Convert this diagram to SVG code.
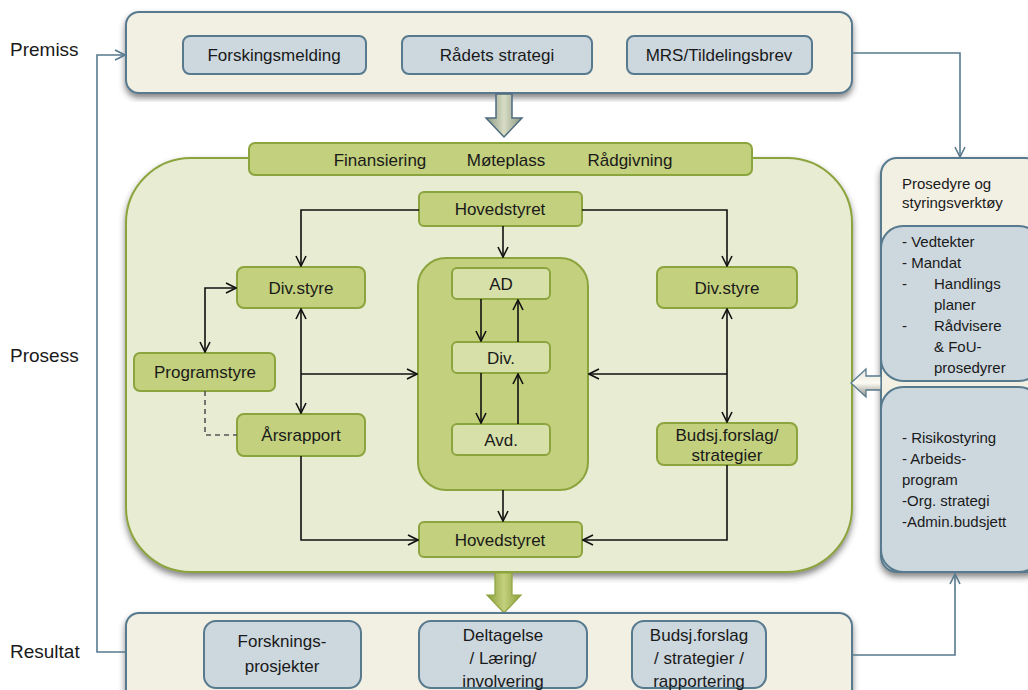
<svg xmlns="http://www.w3.org/2000/svg" width="1028" height="690" viewBox="0 0 1028 690">
<style>
text{font-family:"Liberation Sans","Noto Sans",Arial,sans-serif;fill:#1a1a1a}
.lbl{font-size:19px}
.t{font-size:17px;text-anchor:middle}
.s{font-size:15px}
.cream{fill:#f2efe3;stroke:#587a8e;stroke-width:2}
.blue{fill:#ccd7de;stroke:#587a8e;stroke-width:2}
.green{fill:#c3d07d;stroke:#8ca43e;stroke-width:2}
.lgreen{fill:#d7e0a9;stroke:#8ca43e;stroke-width:2}
.c{fill:none;stroke:#111;stroke-width:1.6}
.fb{fill:none;stroke:#587a8e;stroke-width:1.6}
.dash{fill:none;stroke:#555;stroke-width:1.6;stroke-dasharray:5 4}
</style>
<defs>
<filter id="sh" x="-5%" y="-5%" width="110%" height="115%">
<feDropShadow dx="0" dy="4" stdDeviation="3" flood-color="#333" flood-opacity="0.6"/>
</filter>
<marker id="a" viewBox="0 0 12 12" refX="11" refY="6" markerWidth="12" markerHeight="12" markerUnits="userSpaceOnUse" orient="auto">
<path d="M1,1 L11,6 L1,11" fill="none" stroke="#111" stroke-width="1.6"/>
</marker>
<marker id="ab" viewBox="0 0 12 12" refX="11" refY="6" markerWidth="12" markerHeight="12" markerUnits="userSpaceOnUse" orient="auto">
<path d="M1,1 L11,6 L1,11" fill="none" stroke="#587a8e" stroke-width="1.6"/>
</marker>
<linearGradient id="gd" x1="0" y1="0" x2="1" y2="0">
<stop offset="0" stop-color="#8a9780"/><stop offset="0.5" stop-color="#d8dcc4"/><stop offset="1" stop-color="#8a9780"/>
</linearGradient>
<linearGradient id="gg" x1="0" y1="0" x2="1" y2="0">
<stop offset="0" stop-color="#8b9e3a"/><stop offset="0.5" stop-color="#c3d07d"/><stop offset="1" stop-color="#8b9e3a"/>
</linearGradient>
<linearGradient id="gl" x1="0" y1="0" x2="0" y2="1">
<stop offset="0" stop-color="#e8e6da"/><stop offset="0.5" stop-color="#fbfaf3"/><stop offset="1" stop-color="#8f8f86"/>
</linearGradient>
</defs>

<!-- side labels -->
<text class="lbl" x="10" y="56">Premiss</text>
<text class="lbl" x="10" y="362">Prosess</text>
<text class="lbl" x="10" y="658">Resultat</text>

<!-- Premiss -->
<g id="premiss">
<rect class="cream" x="126" y="12" width="726" height="81" rx="13" filter="url(#sh)"/>
</g>
<g id="forskingsmelding"><rect class="blue" x="183" y="36" width="183" height="38" rx="7"/><text class="t" x="274" y="61">Forskingsmelding</text></g>
<g id="radets-strategi"><rect class="blue" x="402" y="36" width="190" height="38" rx="7"/><text class="t" x="497" y="61">Rådets strategi</text></g>
<g id="mrs"><rect class="blue" x="627" y="36" width="185" height="38" rx="7"/><text class="t" x="719" y="61">MRS/Tildelingsbrev</text></g>

<!-- block arrow premiss -> prosess -->
<path d="M496,94 L512,94 L512,118 L522,118 L504,137 L486,118 L496,118 Z" fill="url(#gd)" stroke="#4e6b80" stroke-width="1.5"/>

<!-- Prosess -->
<g id="prosess">
<rect x="126" y="158" width="726" height="414" rx="65" fill="#e8ecd2" stroke="#8ca43e" stroke-width="2" filter="url(#sh)"/>
</g>
<g id="tema"><rect class="green" x="249" y="143" width="503" height="32" rx="6"/>
<text class="t" x="380" y="166">Finansiering</text><text class="t" x="506" y="166">Møteplass</text><text class="t" x="630" y="166">Rådgivning</text></g>

<!-- Block arrow prosess -> resultat -->
<path d="M495,573 L512,573 L512,595 L521,595 L504,613 L487,595 L495,595 Z" fill="url(#gg)" stroke="#8ca43e" stroke-width="1.2"/>

<g id="hovedstyret-top"><rect class="green" x="419" y="192" width="163" height="34" rx="5"/><text class="t" x="500" y="215">Hovedstyret</text></g>
<g id="divstyre-left"><rect class="green" x="237" y="267" width="128" height="41" rx="7"/><text class="t" x="301" y="294">Div.styre</text></g>
<g id="divstyre-right"><rect class="green" x="657" y="267" width="140" height="41" rx="7"/><text class="t" x="727" y="294">Div.styre</text></g>
<g id="programstyre"><rect class="green" x="134" y="353" width="141" height="38" rx="6"/><text class="t" x="205" y="378">Programstyre</text></g>
<g id="arsrapport"><rect class="green" x="237" y="414" width="128" height="42" rx="7"/><text class="t" x="301" y="441">Årsrapport</text></g>
<g id="budsj"><rect class="green" x="657" y="423" width="140" height="42" rx="7"/><text class="t" x="727" y="441">Budsj.forslag/</text><text class="t" x="727" y="461">strategier</text></g>
<g id="sentral"><rect class="green" x="418" y="258" width="170" height="232" rx="28"/></g>
<g id="ad"><rect class="lgreen" x="452" y="268" width="98" height="31" rx="5"/><text class="t" x="501" y="290">AD</text></g>
<g id="div"><rect class="lgreen" x="452" y="342" width="98" height="31" rx="5"/><text class="t" x="501" y="364">Div.</text></g>
<g id="avd"><rect class="lgreen" x="452" y="424" width="98" height="31" rx="5"/><text class="t" x="501" y="446">Avd.</text></g>
<g id="hovedstyret-bottom"><rect class="green" x="419" y="522" width="163" height="35" rx="5"/><text class="t" x="500" y="546">Hovedstyret</text></g>

<!-- right procedure column -->
<g id="prosedyre">
<rect class="cream" x="881" y="158" width="160" height="414" rx="16" filter="url(#sh)"/>
<text class="s" x="902" y="189">Prosedyre og</text>
<text class="s" x="902" y="208">styringsverktøy</text>
</g>
<g id="prosedyre-liste">
<rect class="blue" x="881" y="226" width="160" height="155" rx="22"/>
<text class="s" x="902" y="247">- Vedtekter</text>
<text class="s" x="902" y="268">- Mandat</text>
<text class="s" x="902" y="289">-</text><text class="s" x="934" y="289">Handlings</text>
<text class="s" x="934" y="310">planer</text>
<text class="s" x="902" y="331">-</text><text class="s" x="934" y="331">Rådvisere</text>
<text class="s" x="934" y="352">&amp; FoU-</text>
<text class="s" x="934" y="373">prosedyrer</text>
</g>
<g id="styring-liste">
<rect class="blue" x="881" y="387" width="160" height="185" rx="22"/>
<text class="s" x="902" y="443">- Risikostyring</text>
<text class="s" x="902" y="464">- Arbeids-</text>
<text class="s" x="902" y="485">program</text>
<text class="s" x="902" y="506">-Org. strategi</text>
<text class="s" x="902" y="527">-Admin.budsjett</text>
</g>
<!-- block arrow left -->
<path d="M881,376 L866,376 L866,369 L851,383 L866,397 L866,390 L881,390 Z" fill="url(#gl)" stroke="#587a8e" stroke-width="1.3"/>

<!-- Resultat -->
<g id="resultat">
<rect class="cream" x="126" y="613" width="726" height="90" rx="13" filter="url(#sh)"/>
</g>
<g id="forskningsprosjekter"><rect class="blue" x="204" y="621" width="157" height="67" rx="12"/><text class="t" x="282" y="647">Forsknings-</text><text class="t" x="282" y="672">prosjekter</text></g>
<g id="deltagelse"><rect class="blue" x="419" y="621" width="168" height="67" rx="12"/><text class="t" x="503" y="641">Deltagelse</text><text class="t" x="503" y="664">/ Læring/</text><text class="t" x="503" y="687">involvering</text></g>
<g id="budsj-res"><rect class="blue" x="632" y="621" width="134" height="67" rx="12"/><text class="t" x="699" y="641">Budsj.forslag</text><text class="t" x="699" y="664">/ strategier /</text><text class="t" x="699" y="687">rapportering</text></g>

<!-- connectors -->
<g id="connectors">
<path class="fb" d="M126,652 L97,652 L97,55 L125,55" marker-end="url(#ab)"/>
<path class="fb" d="M852,53 L960,53 L960,157" marker-end="url(#ab)"/>
<path class="fb" d="M852,655 L955,655 L955,574" marker-end="url(#ab)"/>

<path class="c" d="M419,210 L301,210 L301,266" marker-end="url(#a)"/>
<path class="c" d="M582,210 L727,210 L727,266" marker-end="url(#a)"/>
<path class="c" d="M503,226 L503,257" marker-end="url(#a)"/>
<path class="c" d="M481,299 L481,341" marker-end="url(#a)"/>
<path class="c" d="M518,342 L518,300" marker-end="url(#a)"/>
<path class="c" d="M481,373 L481,423" marker-end="url(#a)"/>
<path class="c" d="M518,424 L518,374" marker-end="url(#a)"/>
<path class="c" d="M503,490 L503,521" marker-end="url(#a)"/>

<path class="c" d="M301,361 L301,309" marker-end="url(#a)"/>
<path class="c" d="M301,361 L301,413" marker-end="url(#a)"/>
<path class="c" d="M301,374 L417,374" marker-end="url(#a)"/>
<path class="c" d="M205,320 L205,288 L236,288" marker-end="url(#a)"/>
<path class="c" d="M205,320 L205,352" marker-end="url(#a)"/>
<path class="dash" d="M205,391 L205,435 L237,435"/>
<path class="c" d="M301,456 L301,540 L418,540" marker-end="url(#a)"/>

<path class="c" d="M727,361 L727,309" marker-end="url(#a)"/>
<path class="c" d="M727,361 L727,422" marker-end="url(#a)"/>
<path class="c" d="M727,374 L589,374" marker-end="url(#a)"/>
<path class="c" d="M727,465 L727,540 L583,540" marker-end="url(#a)"/>
</g>
</svg>
